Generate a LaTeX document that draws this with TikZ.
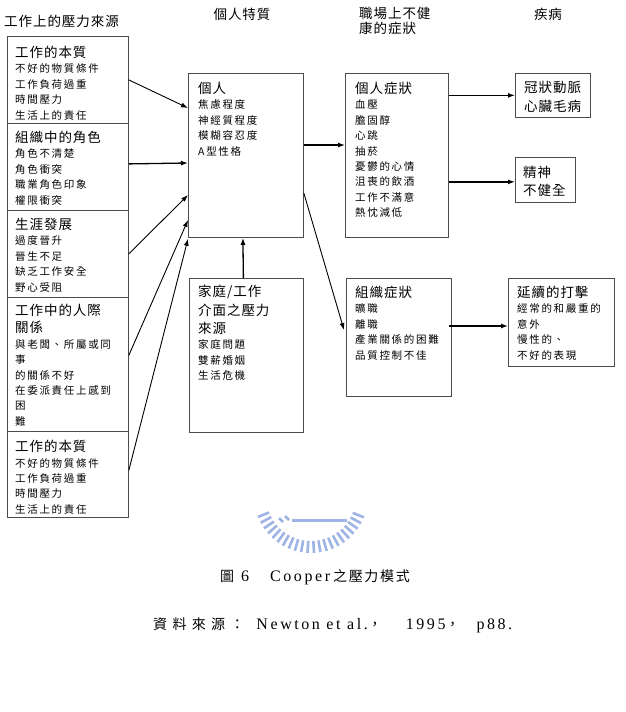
\documentclass[tikz,border=0pt]{standalone}
\usepackage{fontspec}
\usetikzlibrary{calc,arrows.meta}
\setmainfont{Liberation Serif}
\newfontfamily\cjkhead[LetterSpace=7]{Noto Sans CJK TC}
\newfontfamily\cjkitem[LetterSpace=16]{Noto Sans CJK TC}
\newfontfamily\capcjk[LetterSpace=12]{Noto Sans CJK TC}
\newfontfamily\srccjk[LetterSpace=38]{Noto Sans CJK TC}
\newfontfamily\latsp[LetterSpace=16]{Liberation Serif}
\newcommand\hd{\cjkhead\fontsize{13.5}{15.4}\selectfont}
\newcommand\itm{\cjkitem\fontsize{10.5}{15.4}\selectfont}
\definecolor{emblem}{RGB}{158,180,228}
\begin{document}
\begin{tikzpicture}[x=1pt,y=-1pt,
  frame/.style={draw=black!70, line width=0.8pt, inner sep=0, anchor=north west},
  txt/.style={anchor=north west, inner sep=0, align=left, font=\itm},
  ttl/.style={inner sep=0, align=left, font=\hd},
  arr/.style={-{Latex[length=7pt,width=5pt]}, line width=0.9pt},
  harr/.style={arr, line width=1.3pt},
  logo/.style={draw=emblem, line width=2.6pt}]
\useasboundingbox (0,0) rectangle (626,712);

% column titles
\node[ttl] (h1) at (61.5,21) {工作上的壓力來源};
\node[ttl] (h2) at (242,14) {個人特質};
\node[ttl, anchor=north west] (h3) at (359,7) {職場上不健\\康的症狀};
\node[ttl] (h4) at (548,14) {疾病};

% sources of stress at work
\node[frame, minimum width=121pt, minimum height=87pt] (s1) at (7,36) {};
\node[frame, minimum width=121pt, minimum height=87pt] (s2) at (7,123) {};
\node[frame, minimum width=121pt, minimum height=87pt] (s3) at (7,210) {};
\node[frame, minimum width=121pt, minimum height=134pt] (s4) at (7,297) {};
\node[frame, minimum width=121pt, minimum height=86pt] (s5) at (7,431) {};

\node[txt] (t1) at (15,46) {{\hd 工作的本質}\\不好的物質條件\\工作負荷過重\\時間壓力\\生活上的責任};
\node[txt] (t2) at (15,131) {{\hd 組織中的角色}\\角色不清楚\\角色衝突\\職業角色印象\\權限衝突};
\node[txt] (t3) at (15,218) {{\hd 生涯發展}\\過度晉升\\晉生不足\\缺乏工作安全\\野心受阻};
\node[txt] (t4) at (15,304) {{\hd 工作中的人際}\\[2pt]{\hd 關係}\\與老闆、所屬或同\\事\\的關係不好\\在委派責任上感到\\困\\難};
\node[txt] (t5) at (15,440) {{\hd 工作的本質}\\不好的物質條件\\工作負荷過重\\時間壓力\\生活上的責任};

% individual characteristics
\node[frame, minimum width=115pt, minimum height=164pt] (ind) at (188,73) {};
\node[txt] (tind) at (198,82) {{\hd 個人}\\焦慮程度\\神經質程度\\模糊容忍度\\A型性格};

\node[frame, minimum width=114pt, minimum height=154pt] (fam) at (189,278) {};
\node[txt] (tfam) at (198,285) {{\hd 家庭/工作}\\[3pt]{\hd 介面之壓力}\\[3pt]{\hd 來源}\\家庭問題\\雙薪婚姻\\生活危機};

% symptoms
\node[frame, minimum width=103pt, minimum height=164pt] (per) at (345,73) {};
\node[txt] (tper) at (355,82) {{\hd 個人症狀}\\血壓\\膽固醇\\心跳\\抽菸\\憂鬱的心情\\沮喪的飲酒\\工作不滿意\\熱忱減低};

\node[frame, minimum width=105pt, minimum height=118pt] (org) at (346,278) {};
\node[txt] (torg) at (355,286) {{\hd 組織症狀}\\曠職\\離職\\產業關係的困難\\品質控制不佳};

% diseases
\node[frame, minimum width=75pt, minimum height=44pt] (cor) at (515,73) {};
\node[txt, font=\hd] (tcor) at (524,81) {冠狀動脈\\[3.5pt]心臟毛病};

\node[frame, minimum width=60pt, minimum height=45pt] (men) at (515,157) {};
\node[txt, font=\hd] (tmen) at (523,166) {精神\\[3pt]不健全};

\node[frame, minimum width=106pt, minimum height=88pt] (con) at (508,278) {};
\node[txt] (tcon) at (517,286) {{\hd 延續的打擊}\\經常的和嚴重的\\意外\\慢性的、\\不好的表現};

% connectors
\draw[arr] (s1.east) -- ($(ind.north west)+(0,35)$);
\draw[harr] ($(s2.east)+(0,-3)$) -- ($(ind.north west)+(0,90)$);
\draw[arr] (s3.east) -- ($(ind.north west)+(0,122)$);
\draw[arr] ($(s4.east)+(0,-9)$) -- ($(ind.north west)+(0,147)$);
\draw[arr] ($(s5.east)+(0,-4)$) -- ($(ind.south west)+(0,1)$);
\draw[harr] ($(fam.north)+(-3,0)$) -- ($(ind.south)+(-3,0)$);
\draw[harr] ($(ind.north east)+(0,72)$) -- ($(per.north west)+(0,72)$);
\draw[harr] (per.east |- cor.west) -- (cor.west);
\draw[harr] ($(per.east |- men.west)+(0,2)$) -- ($(men.west)+(0,2)$);
\draw[arr] ($(ind.north east)+(0,120)$) -- ($(org.north west)+(-2,52)$);
\coordinate (oc) at ($(org.north east)+(-3,48)$);
\draw[harr] (oc) -- (con.west |- oc);

% emblem
\begin{scope}[shift={(311,496)}]
  \foreach \a in {22,28.5,...,160} \draw[logo] (\a:45) -- (\a:57);
\end{scope}
\draw[logo, line width=3pt] (292,520) -- (347,520);
\draw[logo, line width=2.5pt] (279,518) -- (283,522);
\draw[logo, line width=2.5pt] (285,516) -- (289,520);

% caption and source
\node[inner sep=0, anchor=base west] (cap) at (220,581)
  {\fontsize{16}{18}\selectfont{\fontsize{14}{18}\capcjk 圖}\hspace{7pt}{\latsp 6}\hspace{21pt}{\latsp Cooper}\hspace{3pt}{\fontsize{14}{18}\capcjk 之壓力模式}};
\node[inner sep=0, anchor=base west] (src) at (153,629)
  {\fontsize{16}{18}\selectfont{\fontsize{14}{18}\srccjk 資料來源：}\hspace{12pt}{\latsp Newton et al.}{\fontsize{14}{18}\srccjk ，}\hspace{24pt}{\latsp 1995}{\fontsize{14}{18}\srccjk ，}\hspace{17pt}{\latsp p88.}};
\end{tikzpicture}
\end{document}
